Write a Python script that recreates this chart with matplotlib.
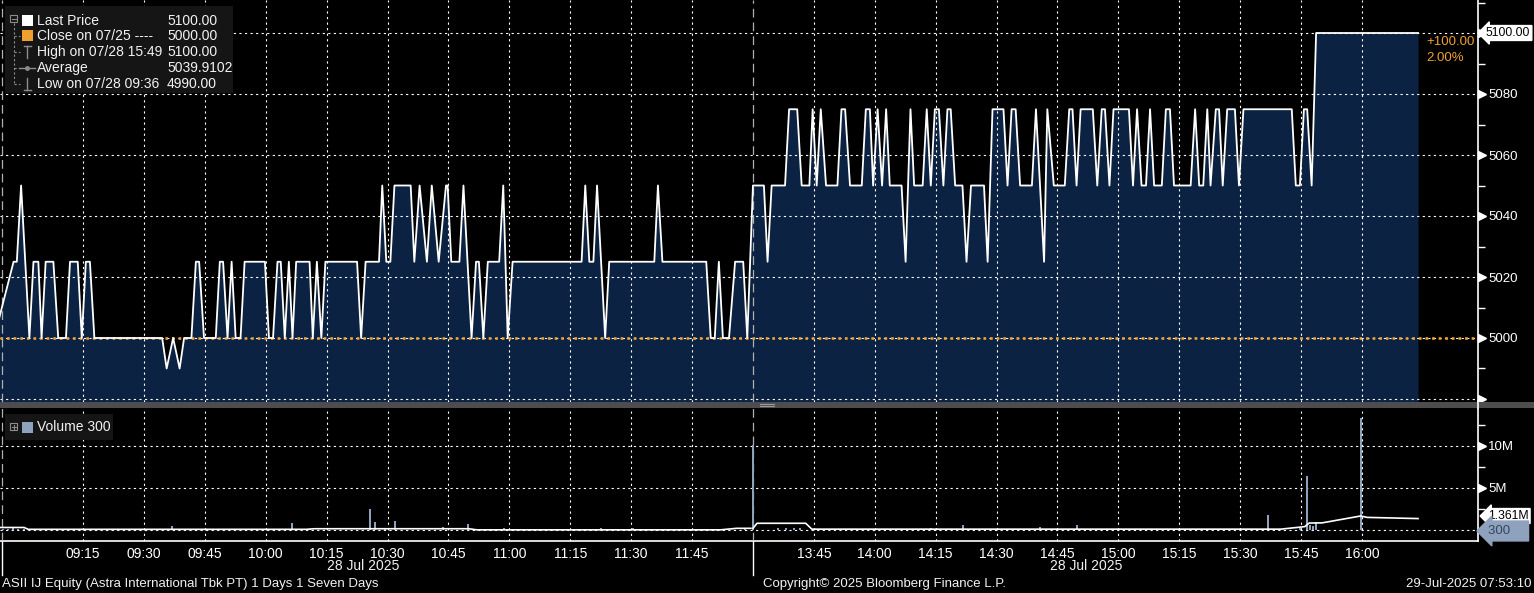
import matplotlib
matplotlib.use('Agg')
import matplotlib.pyplot as plt
import matplotlib.transforms as mtransforms
from matplotlib.patches import Rectangle
from matplotlib.lines import Line2D
import numpy as np

plt.rcParams['font.family'] = ['Liberation Sans', 'DejaVu Sans']

# ---------------- data ----------------
# morning session trades: minutes after 09:00 and price
am_minutes = [-6.9, -2.1, -1.3, -0.25, 1.8, 2.8, 4.0, 4.8, 5.8, 7.7, 8.9, 10.8, 11.8, 13.7, 14.7, 15.7,
              16.7, 17.8, 34.5, 35.6, 37.2, 38.8, 39.9, 41.7, 42.8, 43.6, 44.8, 47.7, 48.7, 49.5, 50.6,
              51.6, 52.6, 53.8, 54.8, 59.8, 60.8, 61.8, 62.9, 63.7, 64.7, 65.7, 66.6, 67.5, 70.8, 71.6,
              72.6, 73.7, 74.7, 82.5, 83.5, 84.6, 87.9, 88.7, 89.7, 90.7, 91.7, 95.7, 96.6, 97.9, 99.7,
              100.9, 102.6, 104.4, 104.8, 105.7, 107.7, 108.7, 110.7, 111.8, 112.5, 113.6, 114.7, 117.5,
              118.5, 119.6, 120.8, 137.8, 138.7, 139.7, 140.7, 141.6, 143.6, 144.6, 155.7, 156.6, 157.7,
              168.5, 169.6, 170.6, 171.6, 172.6, 174.1, 175.6, 177.6, 178.6]
am_price = [5000, 5025, 5025, 5050, 5000, 5025, 5025, 5000, 5025, 5025, 5000, 5000, 5025, 5025, 5000, 5025,
            5025, 5000, 5000, 4990, 5000, 4990, 5000, 5000, 5025, 5025, 5000, 5000, 5025, 5025, 5000,
            5025, 5000, 5000, 5025, 5025, 5000, 5000, 5025, 5025, 5000, 5025, 5000, 5025, 5025, 5000,
            5025, 5000, 5025, 5025, 5000, 5025, 5025, 5050, 5025, 5025, 5050, 5050, 5025, 5050, 5025,
            5050, 5025, 5050, 5050, 5025, 5025, 5050, 5000, 5025, 5025, 5000, 5025, 5025,
            5050, 5000, 5025, 5025, 5050, 5025, 5025, 5050, 5000, 5025, 5025, 5050, 5025,
            5025, 5000, 5000, 5025, 5000, 5000, 5025, 5025, 5000]

# afternoon session trades: minutes after 13:30 and price
pm_minutes = [0.0, 2.7, 3.6, 4.6, 7.9, 8.9, 10.9, 12.0, 13.9, 14.7, 15.7, 16.7, 18.0, 20.8, 21.8, 22.7,
              23.9, 26.8, 27.8, 28.8, 29.6, 30.7, 31.8, 32.8, 33.7, 36.6, 37.6, 38.8, 39.7, 41.8, 42.8,
              43.8, 44.8, 45.8, 46.9, 47.9, 48.7, 49.8, 51.6, 52.6, 53.7, 56.9, 57.8, 59.0, 61.7, 62.7,
              63.7, 64.7, 65.8, 68.7, 69.7, 71.7, 72.5, 74.1, 76.8, 77.9, 78.7, 79.7, 80.7, 83.7, 84.8,
              85.9, 86.7, 87.8, 88.8, 92.6, 93.6, 94.6, 95.7, 96.8, 97.8, 98.8, 100.7, 101.7, 102.7,
              103.7, 107.8, 108.9, 109.9, 110.9, 111.9, 112.7, 114.0, 114.8, 115.7, 116.8, 118.7, 119.7,
              120.8, 132.7, 133.7, 134.7, 135.7, 136.5, 137.6, 138.7, 163.8]
pm_price = [5050, 5050, 5025, 5050, 5050, 5075, 5075, 5050, 5050, 5075, 5050, 5075, 5050, 5050, 5075, 5075,
            5050, 5050, 5075, 5075, 5050, 5075, 5050, 5075, 5050, 5050, 5025, 5075, 5050, 5050, 5075,
            5050, 5075, 5075, 5050, 5075, 5075, 5050, 5050, 5025, 5050, 5050, 5025, 5075, 5075, 5050,
            5075, 5075, 5050, 5050, 5075, 5025, 5075, 5050, 5050, 5075, 5075, 5050, 5075, 5075, 5050,
            5075, 5075, 5050, 5075, 5075, 5050, 5075, 5050, 5050, 5075, 5050, 5050, 5075, 5075,
            5050, 5050, 5075, 5050, 5050, 5075, 5050, 5075, 5075, 5050, 5075, 5075, 5050,
            5075, 5075, 5050, 5050, 5075, 5075, 5050, 5100, 5100]

prev_close = 5000

# volume bars
am_vol_minutes = [-4.7, -3.5, -2.2, -1.0, 0.5, 14.8, 36.9, 53.7, 66.5, 70.9, 78.3, 85.7, 86.9, 89.4, 91.8,
                  103.7, 109.8, 118.7, 137.9, 142.6, 145.5, 150.5, 158.8, 178.0]
am_volume = [0.15e6, 0.10e6, 0.20e6, 0.15e6, 0.10e6, 0.10e6, 0.5e6, 0.05e6, 0.8e6, 0.10e6, 0.05e6, 2.5e6,
             0.9e6, 0.10e6, 1.1e6, 0.3e6, 0.7e6, 0.25e6, 0.15e6, 0.2e6, 0.15e6, 0.2e6, 0.15e6, 0.10e6]
pm_vol_minutes = [0.0, 6.2, 8.1, 10.1, 11.6, 25.6, 32.5, 38.7, 43.9, 51.7, 58.4, 63.3, 70.7, 79.8, 85.5,
                  104.4, 106.9, 116.7, 122.4, 126.9, 134.7, 136.4, 137.2, 137.9, 138.7, 149.8, 163.8]
pm_volume = [10.1e6, 0.25e6, 0.2e6, 0.25e6, 0.2e6, 0.1e6, 0.1e6, 0.15e6, 0.2e6, 0.6e6, 0.1e6, 0.15e6,
             0.3e6, 0.6e6, 0.1e6, 0.15e6, 0.1e6, 0.15e6, 0.1e6, 1.8e6, 0.2e6, 6.4e6, 0.6e6, 0.5e6,
             0.9e6, 13.3e6, 300]

# volume average line
am_avg_minutes = [-6.0, 0.5, 1.5, 70.0, 72.0, 110.0, 112.0, 172.0, 176.0, 179.5]
am_avg = [0.3e6, 0.3e6, 0.08e6, 0.08e6, 0.15e6, 0.15e6, 0.02e6, 0.02e6, 0.2e6, 0.2e6]
pm_avg_minutes = [0.0, 1.0, 13.0, 14.5, 130.0, 135.9, 137.0, 140.2, 149.7, 151.3, 163.8]
pm_avg = [0.2e6, 0.8e6, 0.8e6, 0.1e6, 0.1e6, 0.4e6, 0.83e6, 0.85e6, 1.67e6, 1.5e6, 1.361e6]

tick_labels = ['09:15', '09:30', '09:45', '10:00', '10:15', '10:30', '10:45', '11:00', '11:15', '11:30',
               '11:45', '13:45', '14:00', '14:15', '14:30', '14:45', '15:00', '15:15', '15:30', '15:45',
               '16:00']
price_ticks = [4980, 5000, 5020, 5040, 5060, 5080, 5100]
price_minor = [4990, 5010, 5030, 5050, 5070, 5090, 5110]
vol_ticks = [0, 5e6, 10e6]
vol_tick_labels = ['', '5M', '10M']
vol_minor = [2.5e6, 7.5e6, 12.5e6]

legend_rows = [('Last Price', '5100.00'), ('Close on 07/25 ----', '5000.00'),
               ('High on 07/28 15:49', '5100.00'), ('Average', '5039.9102'),
               ('Low on 07/28 09:36', '4990.00')]

# --------------- helpers ----------------
W, H = 1534, 593
LUNCH = 90  # 12:00 -> 13:30 break removed from axis


def clock_pos(s):
    h, m = map(int, s.split(':'))
    t = h * 60 + m - 9 * 60
    return t if t <= 180 else t - LUNCH


am_x = np.asarray(am_minutes, float)
pm_x = 180 + np.asarray(pm_minutes, float)
px = np.concatenate([am_x, pm_x])
pp = np.concatenate([am_price, pm_price]).astype(float)

fig = plt.figure(figsize=(W / 100, H / 100), dpi=100, facecolor='black')


def fx(x):
    return x / W


def fy(y):
    return 1 - y / H


XL = (-22.1 / 4.0603, (1478 - 22.1) / 4.0603)

ax = fig.add_axes([0, fy(401.5), 1478 / W, 401.5 / H])
axv = fig.add_axes([0, fy(541), 1478 / W, (541 - 407.5) / H])

FILL = '#0b2242'
GRIDC = (1, 1, 1, 0.32)
ORANGE = '#f0a030'
VOLC = '#8fa2bd'

for a in (ax, axv):
    a.set_facecolor('black')
    a.set_xlim(*XL)
    for s in a.spines.values():
        s.set_visible(False)
    a.spines['right'].set_visible(True)
    a.spines['right'].set_color('white')
    a.spines['right'].set_linewidth(1.2)
    a.set_axisbelow(False)
    a.set_xticks([clock_pos(t) for t in tick_labels])
    a.grid(True, which='major', color=GRIDC, ls=(0, (2, 3)), lw=0.8)
    a.yaxis.tick_right()

ylo = 5000 - (401.5 - 338) / 61 * 20
yhi = 5000 + 338 / 61 * 20
ax.set_ylim(ylo, yhi)
ax.fill_between(px, pp, ylo, color=FILL, lw=0, zorder=1)
ax.plot(px, pp, color='white', lw=1.3, zorder=4)
ax.axhline(prev_close, color=ORANGE, ls=(0, (1, 1.5)), lw=1.9, zorder=3)
for xv in (-5.0, 180):
    ax.axvline(xv, color='#b0b0b0', ls=(0, (7, 4)), lw=0.9, zorder=3)
    axv.axvline(xv, color='#b0b0b0', ls=(0, (7, 4)), lw=0.9, zorder=3)

ax.set_yticks(price_ticks)
ax.set_yticklabels(['' if v in (4980, 5100) else f'{v}' for v in price_ticks])
ax.set_yticks(price_minor, minor=True)
ax.tick_params(axis='y', which='major', length=0, pad=7.5, labelcolor='white', labelsize=9.5)
ax.tick_params(axis='y', which='minor', length=5, width=1, color='white', direction='out')
ax.tick_params(axis='x', length=0, labelbottom=False)

tr = mtransforms.blended_transform_factory(ax.transAxes, ax.transData)
ax.plot([1.0025] * len(price_ticks), price_ticks, ls='none', marker='>', ms=6, color='white',
        transform=tr, clip_on=False, zorder=6)

# volume panel
vlo = -(541 - 530) / 42 * 5e6
vhi = (530 - 407.5) / 42 * 5e6
axv.set_ylim(vlo, vhi)
axv.bar(am_vol_minutes, am_volume, width=0.4, color=VOLC, zorder=3)
axv.bar(180 + np.asarray(pm_vol_minutes), pm_volume, width=0.4, color=VOLC, zorder=3)
axv.plot(am_avg_minutes, am_avg, color='white', lw=1.2, zorder=4)
axv.plot(180 + np.asarray(pm_avg_minutes), pm_avg, color='white', lw=1.2, zorder=4)
axv.set_yticks(vol_ticks)
axv.set_yticklabels(vol_tick_labels)
axv.set_yticks(vol_minor, minor=True)
axv.tick_params(axis='y', which='major', length=0, pad=7.5, labelcolor='white', labelsize=9.5)
axv.tick_params(axis='y', which='minor', length=5, width=1, color='white', direction='out')
axv.spines['bottom'].set_visible(True)
axv.spines['bottom'].set_color('white')
axv.spines['bottom'].set_linewidth(1.2)
axv.set_xticklabels(tick_labels)
axv.tick_params(axis='x', length=0, pad=4, labelcolor='white', labelsize=10)
trv = mtransforms.blended_transform_factory(axv.transAxes, axv.transData)
axv.plot([1.0025] * 2, vol_ticks[1:], ls='none', marker='>', ms=6, color='white',
         transform=trv, clip_on=False, zorder=6)

# ---------- figure decorations ----------
def T(x, y, s, **kw):
    kw.setdefault('color', '#f2f2f2')
    kw.setdefault('fontsize', 10)
    kw.setdefault('va', 'center')
    return fig.text(fx(x), fy(y), s, **kw)


def L(x0, y0, x1, y1, **kw):
    fig.add_artist(Line2D([fx(x0), fx(x1)], [fy(y0), fy(y1)], transform=fig.transFigure, **kw))


def R(x0, y0, x1, y1, **kw):
    fig.add_artist(Rectangle((fx(x0), fy(y1)), fx(x1) - fx(x0), fy(y0) - fy(y1),
                             transform=fig.transFigure, **kw))


# separator between panels
R(0, 402.5, W, 407.5, color='#4d4d4d', lw=0)
L(760, 404, 774, 404, color='#9a9a9a', lw=0.8)
L(760, 406, 774, 406, color='#9a9a9a', lw=0.8)
L(1478, 401, 1478, 408, color='white', lw=1.2)

# session divider below axis
L(752.5, 541, 752.5, 575, color='white', lw=1)
L(2, 541, 2, 575, color='white', lw=1)

# date labels & footer
T(363, 566, '28 Jul 2025', ha='center')
T(1086, 566, '28 Jul 2025', ha='center')
T(2, 584, 'ASII IJ Equity (Astra International Tbk PT) 1 Days 1 Seven Days', ha='left', fontsize=9.5)
T(885, 584, 'Copyright\u00a9 2025 Bloomberg Finance L.P.', ha='center', fontsize=9.5)
T(1532, 584, '29-Jul-2025 07:53:10', ha='right', fontsize=9.5)

# last value boxes
T(1486, 33, '5100.00', ha='left', color='black', fontsize=8.8,
  bbox=dict(boxstyle='larrow,pad=0.12', fc='white', ec='white'))
T(1426, 42, '+100.00', ha='left', color=ORANGE, fontsize=9.5)
T(1426, 58, '2.00%', ha='left', color=ORANGE, fontsize=9.5)
T(1488, 516, '1.361M', ha='left', color='black', fontsize=8.8,
  bbox=dict(boxstyle='larrow,pad=0.12', fc='white', ec='white'))
T(1488, 531, '300    ', ha='left', color='#34465f', fontsize=9.5,
  bbox=dict(boxstyle='larrow,pad=0.3', fc=VOLC, ec=VOLC), zorder=10)

# price legend
R(5, 6, 233, 93, color='#151515', lw=0, zorder=5)
rows_y = [20.7, 35.8, 51.8, 68.0, 84.0]
for (lab, val), yy in zip(legend_rows, rows_y):
    T(37, yy, lab, ha='left', zorder=6)
    T(167, yy, val, ha='left', zorder=6)
GRAY = '#8c8c8c'
R(10, 15, 17, 22, fill=False, ec=GRAY, lw=0.8, zorder=6)
L(11.5, 18.5, 15.5, 18.5, color=GRAY, lw=0.8, zorder=6)
L(13.5, 23, 13.5, 84, color=GRAY, lw=0.8, ls=(0, (2, 2)), zorder=6)
for yy in rows_y[1:]:
    L(13.5, yy, 20, yy, color=GRAY, lw=0.8, ls=(0, (2, 2)), zorder=6)
R(21.5, 15, 32.5, 26, color='white', lw=0, zorder=6)
R(21.5, 30, 32.5, 41, color=ORANGE, lw=0, zorder=6)
L(27, 46, 27, 58, color=GRAY, lw=1, zorder=6)
L(23.5, 46, 30.5, 46, color=GRAY, lw=1, zorder=6)
L(19, 68, 35, 68, color=GRAY, lw=1, zorder=6)
fig.add_artist(Line2D([fx(27)], [fy(68)], marker='o', ms=2.5, color=GRAY, transform=fig.transFigure,
                      zorder=6))
L(27, 78, 27, 90, color=GRAY, lw=1, zorder=6)
L(23.5, 90, 30.5, 90, color=GRAY, lw=1, zorder=6)

# volume legend
R(5, 414, 113, 440, color='#151515', lw=0, zorder=5)
R(10, 423, 17, 430, fill=False, ec=GRAY, lw=0.8, zorder=6)
L(11.5, 426.5, 15.5, 426.5, color=GRAY, lw=0.8, zorder=6)
L(13.5, 424.5, 13.5, 428.5, color=GRAY, lw=0.8, zorder=6)
R(21.5, 421.5, 32.5, 432.5, color=VOLC, lw=0, zorder=6)
T(37, 427, 'Volume 300', ha='left', zorder=6)

fig.savefig('out.png', dpi=100, facecolor='black')
